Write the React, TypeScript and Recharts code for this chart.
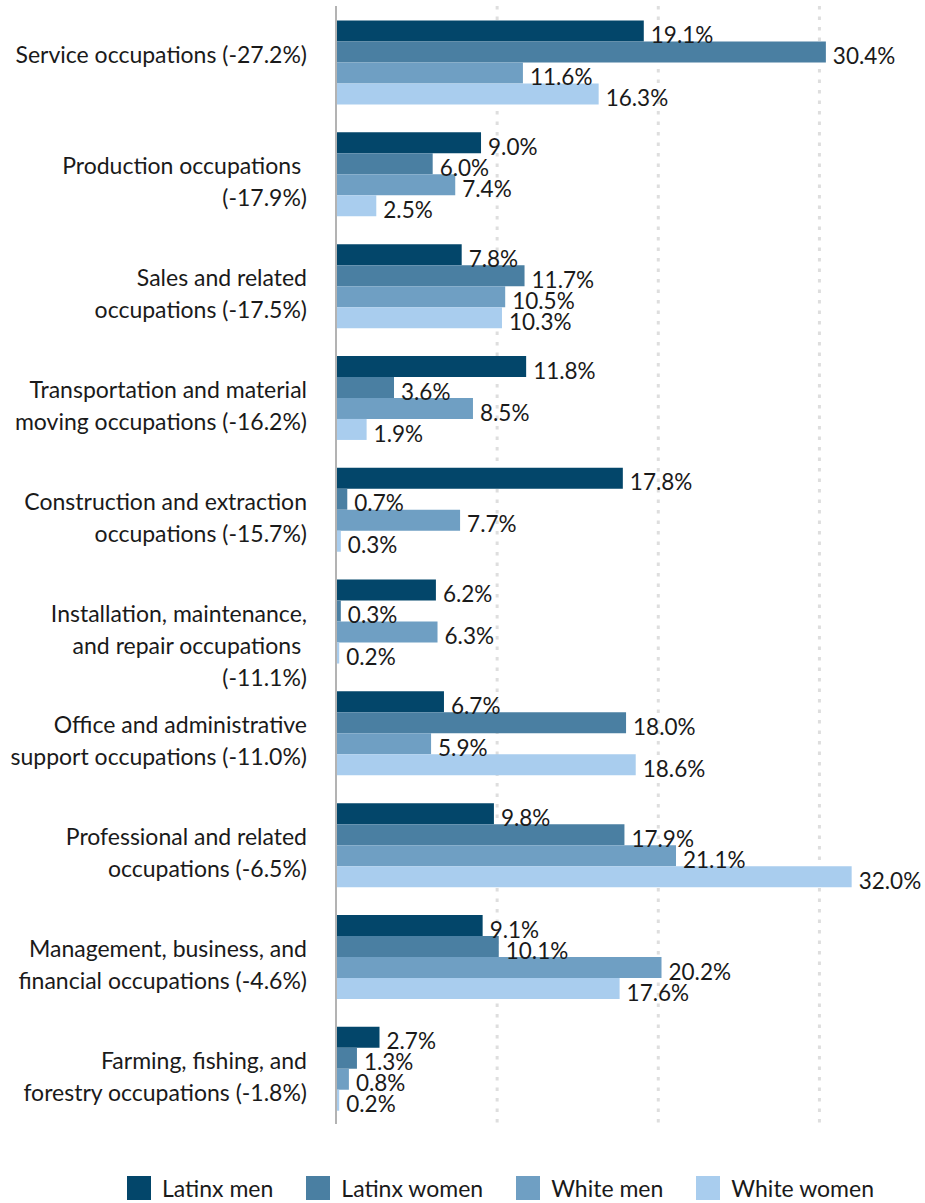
import React from "react";
import { BarChart, Bar, XAxis, YAxis, CartesianGrid, LabelList } from "recharts";

const categoryLabels: string[][] = [
  ["Service occupations (-27.2%)"],
  ["Production occupations ", "(-17.9%)"],
  ["Sales and related", "occupations (-17.5%)"],
  ["Transportation and material", "moving occupations (-16.2%)"],
  ["Construction and extraction", "occupations (-15.7%)"],
  ["Installation, maintenance,", "and repair occupations ", "(-11.1%)"],
  ["Office and administrative", "support occupations (-11.0%)"],
  ["Professional and related", "occupations (-6.5%)"],
  ["Management, business, and", "financial occupations (-4.6%)"],
  ["Farming, fishing, and", "forestry occupations (-1.8%)"],
];

const latinxMen = [19.1, 9.0, 7.8, 11.8, 17.8, 6.2, 6.7, 9.8, 9.1, 2.7];
const latinxWomen = [30.4, 6.0, 11.7, 3.6, 0.7, 0.3, 18.0, 17.9, 10.1, 1.3];
const whiteMen = [11.6, 7.4, 10.5, 8.5, 7.7, 6.3, 5.9, 21.1, 20.2, 0.8];
const whiteWomen = [16.3, 2.5, 10.3, 1.9, 0.3, 0.2, 18.6, 32.0, 17.6, 0.2];

const seriesNames = ["Latinx men", "Latinx women", "White men", "White women"];
const seriesKeys = ["latinxMen", "latinxWomen", "whiteMen", "whiteWomen"];
const seriesColors = ["#03466a", "#4a7fa2", "#6f9fc3", "#a9cdee"];
const gridValues = [10, 20, 30];

const data = categoryLabels.map((lines, i) => ({
  name: lines.join(" "),
  latinxMen: latinxMen[i],
  latinxWomen: latinxWomen[i],
  whiteMen: whiteMen[i],
  whiteWomen: whiteWomen[i],
}));

const linesByName: Record<string, string[]> = {};
categoryLabels.forEach((l) => {
  linesByName[l.join(" ")] = l;
});

const FONT = "Lato, 'Open Sans', sans-serif";
const TEXT = "#1a1a1a";

const CategoryTick = (props: any) => {
  const { x, y, payload } = props;
  const lines = linesByName[payload.value] || [String(payload.value)];
  return (
    <text
      x={x}
      y={y}
      textAnchor="end"
      fill={TEXT}
      fontSize={23}
      fontFamily={FONT}
      style={{ whiteSpace: "pre" }}
    >
      {lines.map((l, i) => (
        <tspan key={i} x={x} y={y - 7.5 + i * 32} dy="0.36em">
          {l}
        </tspan>
      ))}
    </text>
  );
};

const BarValueLabel = (props: any) => {
  const { x, y, width, height, value } = props;
  return (
    <text
      x={Number(x) + Number(width) + 7}
      y={Number(y) + Number(height) / 2 + 4}
      dy="0.36em"
      fill={TEXT}
      fontSize={22.5}
      fontFamily={FONT}
    >
      {Number(value).toFixed(1)}%
    </text>
  );
};

export default function App() {
  return (
    <div style={{ position: "absolute", top: 0, left: 0, width: 925, height: 1203, overflow: "hidden" }}>
      <BarChart
        width={925}
        height={1203}
        data={data}
        layout="vertical"
        margin={{ top: 6, right: 25, left: 0, bottom: 79 }}
        barCategoryGap="13%"
        barGap={0}
        style={{ overflow: "visible" }}
      >
        <CartesianGrid
          horizontal={false}
          vertical={true}
          verticalValues={gridValues}
          stroke="#dedede"
          strokeWidth={3}
          strokeDasharray="3.5 7"
        />
        <XAxis type="number" domain={[0, 35]} hide />
        <YAxis
          type="category"
          dataKey="name"
          width={336}
          axisLine={{ stroke: "#b3b3b3", strokeWidth: 2 }}
          tickLine={false}
          tickSize={0}
          tickMargin={29}
          interval={0}
          tick={<CategoryTick />}
        />
        {seriesKeys.map((k, i) => (
          <Bar key={k} dataKey={k} name={seriesNames[i]} fill={seriesColors[i]} isAnimationActive={false}>
            <LabelList dataKey={k} content={<BarValueLabel />} />
          </Bar>
        ))}
      </BarChart>
      <div
        style={{
          position: "absolute",
          top: 1176,
          left: 127,
          display: "flex",
          gap: 33,
          fontFamily: FONT,
          fontSize: 23,
          color: TEXT,
          lineHeight: "24px",
          whiteSpace: "nowrap",
        }}
      >
        {seriesNames.map((n, i) => (
          <div key={n} style={{ display: "flex", alignItems: "center" }}>
            <span
              style={{ display: "inline-block", width: 24, height: 24, background: seriesColors[i], marginRight: 11 }}
            />
            <span>{n}</span>
          </div>
        ))}
      </div>
    </div>
  );
}
